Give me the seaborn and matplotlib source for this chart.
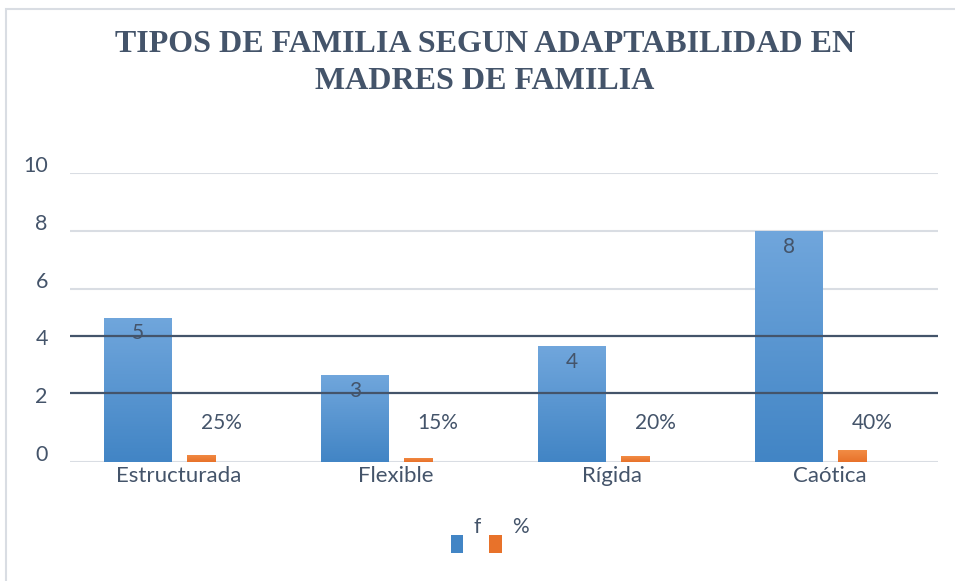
import numpy as np
import pandas as pd
import matplotlib
matplotlib.use("Agg")
import matplotlib.pyplot as plt
import matplotlib.transforms as mtransforms
from matplotlib.patches import Rectangle, Patch
import seaborn as sns

# ---- data ----
categories = ["Estructurada", "Flexible", "Rígida", "Caótica"]
f_values = [5, 3, 4, 8]
pct_values = [0.25, 0.15, 0.20, 0.40]
pct_labels = ["25%", "15%", "20%", "40%"]
y_ticks = [0, 2, 4, 6, 8, 10]
title = "TIPOS DE FAMILIA SEGUN ADAPTABILIDAD EN\nMADRES DE FAMILIA"

sns.set_theme(style="white")
plt.rcParams["font.family"] = ["Lato", "DejaVu Sans"]

TXT = "#44546a"
BLUE_TOP, BLUE_BOT = "#70a6dc", "#4285c5"
OR_TOP, OR_BOT = "#f28c45", "#e8722a"

fig = plt.figure(figsize=(9.55, 5.81), dpi=100)
ax = fig.add_axes([70 / 955, 1 - 462 / 581, 868 / 955, 289 / 581])

idx = np.arange(len(categories))
df_f = pd.DataFrame({"x": idx - 0.186, "y": f_values})
df_p = pd.DataFrame({"x": idx + 0.106, "y": pct_values})

sns.barplot(data=df_f, x="x", y="y", native_scale=True, width=0.313,
            color=BLUE_BOT, saturation=1, ax=ax, zorder=3)
n_blue = len(ax.patches)
sns.barplot(data=df_p, x="x", y="y", native_scale=True, width=0.13,
            color=OR_BOT, saturation=1, ax=ax, zorder=3)

ax.set_xlim(-0.5, len(categories) - 0.5)
ax.set_ylim(0, 10)


def gradient_fill(patch, top, bottom):
    x0, y0 = patch.get_x(), patch.get_y()
    w, h = patch.get_width(), patch.get_height()
    cmap = matplotlib.colors.LinearSegmentedColormap.from_list("g", [bottom, top])
    grad = np.linspace(0, 1, 64).reshape(-1, 1)
    im = ax.imshow(grad, extent=[x0, x0 + w, y0, y0 + h], origin="lower",
                   cmap=cmap, aspect="auto", zorder=3, interpolation="bilinear")
    im.set_clip_path(patch)
    patch.set_facecolor("none")
    patch.set_edgecolor("none")


patches = list(ax.patches)
blue_patches = patches[:n_blue]
orange_patches = patches[n_blue:]
for p in blue_patches:
    gradient_fill(p, BLUE_TOP, BLUE_BOT)
for p in orange_patches:
    gradient_fill(p, OR_TOP, OR_BOT)
ax.set_xlim(-0.5, len(categories) - 0.5)
ax.set_ylim(0, 10)

# gridlines (light) and the two dark reference lines, aligned with the "2" and "4" labels
for yv in (0, 6, 8, 10):
    ax.axhline(yv, color="#d9dde3", lw=1.5, zorder=1)
for yv in (2.39, 4.36):
    ax.axhline(yv, color="#44546a", lw=1.6, zorder=4)

# data labels
for p, v in zip(blue_patches, f_values):
    ax.annotate(str(v), (p.get_x() + p.get_width() / 2, p.get_height()),
                xytext=(0, -11.5), textcoords="offset points",
                ha="center", va="center", fontsize=15, color=TXT, zorder=6)
for p, lab in zip(orange_patches, pct_labels):
    ax.annotate(lab, (p.get_x() + p.get_width() / 2, 0),
                xytext=(14, 28), textcoords="offset points",
                ha="center", va="center", fontsize=15, color=TXT, zorder=6)

# axes styling
ax.set_xticks(idx)
ax.set_xticklabels(categories, fontsize=16, color=TXT)
ax.set_yticks(y_ticks)
ax.set_yticklabels([str(t) for t in y_ticks], fontsize=15.5, color=TXT)
ax.tick_params(axis="y", length=0, pad=16)
ax.tick_params(axis="x", length=0, pad=3)
off = mtransforms.ScaledTranslation(0, 9 / 100, fig.dpi_scale_trans)
for lbl in ax.get_yticklabels():
    lbl.set_transform(lbl.get_transform() + off)
ax.set_xlabel("")
ax.set_ylabel("")
for s in ax.spines.values():
    s.set_visible(False)
ax.grid(False)

# legend
handles = [Patch(facecolor=BLUE_BOT, edgecolor="none"),
           Patch(facecolor=OR_BOT, edgecolor="none")]
leg = fig.legend(handles, ["f", "%"], loc="center", bbox_to_anchor=(0.513, 1 - 545 / 581),
                 ncol=2, frameon=False, fontsize=15, handlelength=0.6, handleheight=1.0,
                 handletextpad=0.5, columnspacing=0.4)
for t in leg.get_texts():
    t.set_color(TXT)
    t.set_y(18)

# title
fig.text(0.508, 1 - 63 / 581, title, ha="center", va="center", fontsize=23,
         fontweight="bold", family="Liberation Serif", color=TXT, linespacing=1.32)

# chart frame
fig.patches.append(Rectangle((6 / 955, -0.05), 1.1, 1 - 9 / 581 + 0.05,
                             transform=fig.transFigure, fill=False,
                             edgecolor="#d9dde3", lw=1.5, zorder=0))

fig.savefig("out.png", dpi=100, facecolor="white")
